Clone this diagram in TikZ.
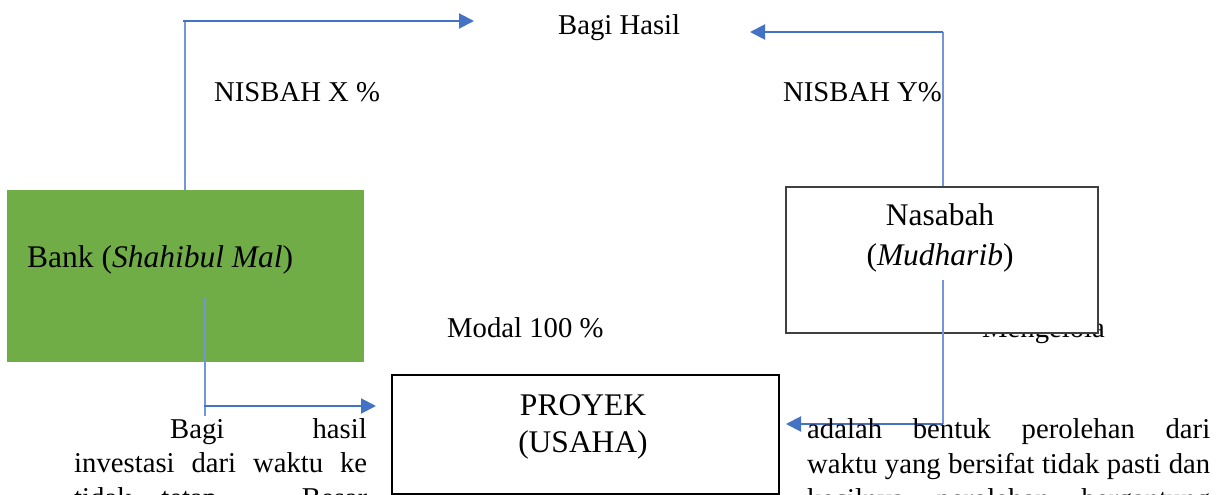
\documentclass[tikz,border=0pt]{standalone}
\usepackage{fontspec}
\setmainfont{Liberation Serif}
\usetikzlibrary{arrows.meta}
\definecolor{bankgreen}{HTML}{70AD47}
\definecolor{arrowblue}{HTML}{4472C4}
\definecolor{vblue}{HTML}{7396D8}
\definecolor{boxgray}{HTML}{404040}
\tikzset{
  lbl/.style={inner sep=0, anchor=base west, font=\fontsize{28.7}{34}\selectfont},
  boxtxt/.style={inner sep=0, anchor=base west, font=\fontsize{31.5}{37}\selectfont},
  cboxtxt/.style={inner sep=0, anchor=base, font=\fontsize{31.5}{37}\selectfont},
  vline/.style={draw=vblue, line width=2pt},
  harrow/.style={draw=arrowblue, line width=2pt, -{Triangle[length=15pt,width=15pt]}},
}
\begin{document}
\begin{tikzpicture}[x=1pt,y=-1pt]
\useasboundingbox (0,0) rectangle (1216,495);
% --- Bank box
\node[fill=bankgreen, minimum width=357pt, minimum height=172pt, inner sep=0, anchor=north west] (bank) at (7,190) {};
\node[boxtxt] (banktext) at (27,267) {Bank (\textit{Shahibul Mal})};
% --- Mengelola (partly covered by the Nasabah box)
\node[lbl] (mengelola) at (982,337) {Mengelola};
% --- Nasabah box
\node[draw=boxgray, line width=1.5pt, fill=white, minimum width=312pt, minimum height=146pt, inner sep=0, anchor=north west] (nasabah) at (785,186) {};
\node[cboxtxt] (nasabah1) at (940,225) {Nasabah};
\node[cboxtxt] (nasabah2) at (940,265) {(\textit{Mudharib})};
% --- Proyek box
\node[draw=black, line width=2pt, fill=white, minimum width=387pt, minimum height=119pt, inner sep=0, anchor=north west] (proyek) at (391,374) {};
\node[cboxtxt] (proyek1) at (583,415) {PROYEK};
\node[cboxtxt] (proyek2) at (583,452) {(USAHA)};
% --- labels
\node[lbl] (bagihasil) at (558,35) {Bagi Hasil};
\node[lbl] (nisx) at (214,101) {NISBAH X \%};
\node[lbl] (nisy) at (783,101) {NISBAH Y\%};
\node[lbl] (modal) at (447,337) {Modal 100 \%};
% --- connectors
\coordinate (c1) at (185,21);
\coordinate (c1s) at (183,21);
\coordinate (t1) at (474,21);
\draw[vline] (bank.north -| c1) -- (c1);
\draw[harrow] (c1s) -- (t1);
\coordinate (c2) at (943,32);
\coordinate (t2) at (750,32);
\draw[vline] (nasabah.north -| c2) -- (c2);
\draw[harrow] (c2) -- (t2);
\coordinate (s3) at (205,297);
\coordinate (e3) at (205,416);
\coordinate (c3) at (204,406);
\coordinate (t3) at (376,406);
\draw[vline] (s3) -- (e3);
\draw[harrow] (c3) -- (t3);
\coordinate (s4) at (943,280);
\coordinate (c4) at (943,424);
\coordinate (t4) at (786,424);
\draw[vline] (s4) -- (c4);
\draw[harrow] (c4) -- (t4);
% --- paragraphs
\node[lbl] (pl1a) at (170,438) {Bagi};
\node[lbl, anchor=base east] (pl1b) at (367,438) {hasil};
\node[lbl] (pl2) at (74,472) {\makebox[293pt][s]{investasi dari waktu ke}};
\node[lbl] (pl3) at (74,507) {\makebox[293pt][s]{tidak tetap. Besar}};
\node[lbl] (pr1) at (807,438) {\makebox[403pt][s]{adalah bentuk perolehan dari}};
\node[lbl] (pr2) at (807,473) {\makebox[403pt][s]{waktu yang bersifat tidak pasti dan}};
\node[lbl] (pr3) at (807,508) {\makebox[403pt][s]{kecilnya perolehan bergantung}};
\end{tikzpicture}
\end{document}
